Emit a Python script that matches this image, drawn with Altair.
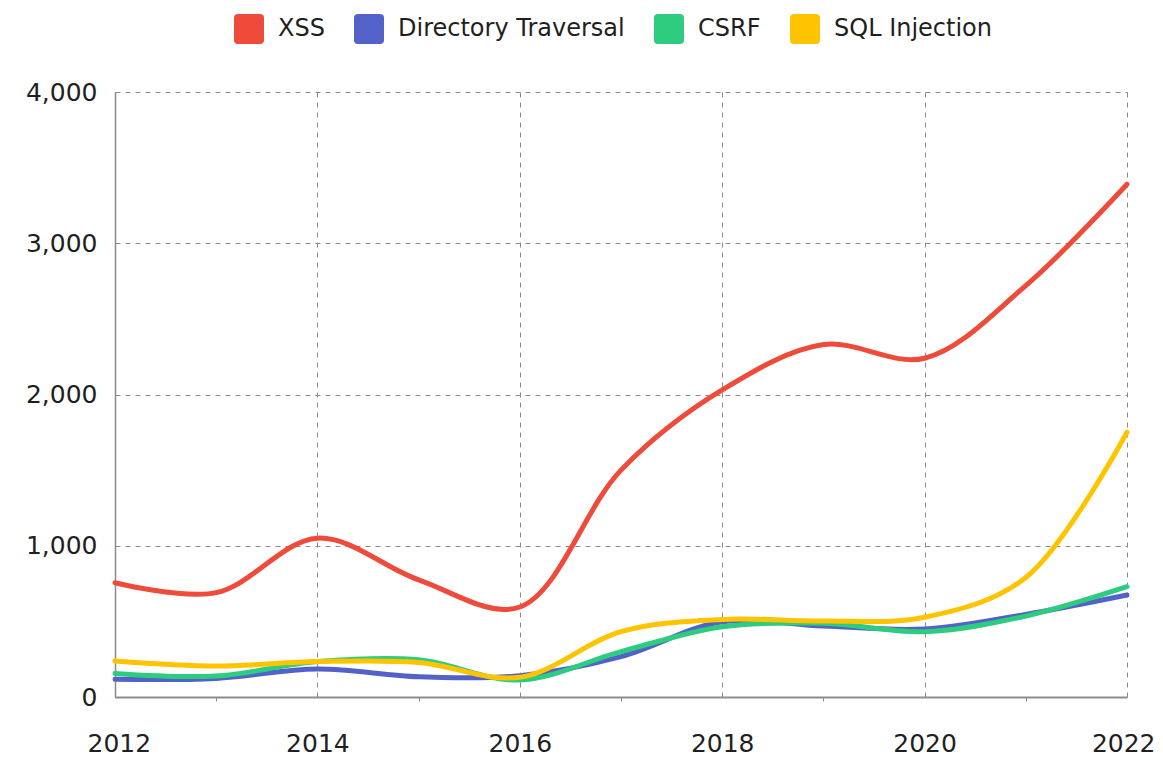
import altair as alt
import pandas as pd

years = list(range(2012, 2023))
series_names = ["XSS", "Directory Traversal", "CSRF", "SQL Injection"]
colors = ["#EE4B3B", "#5262C8", "#2ECC7E", "#FFC400"]

xss = [755, 690, 1050, 775, 595, 1500, 2030, 2330, 2240, 2720, 3390]
directory_traversal = [117, 123, 185, 134, 141, 267, 498, 469, 450, 546, 674]
csrf = [156, 139, 234, 246, 112, 300, 465, 487, 432, 535, 729]
sql_injection = [238, 205, 234, 228, 130, 432, 513, 502, 527, 790, 1750]

y_ticks = [0, 1000, 2000, 3000, 4000]

rows = []
for name, vals in zip(series_names,
                      [xss, directory_traversal, csrf, sql_injection]):
    for yr, v in zip(years, vals):
        rows.append({"year": yr, "value": v, "series": name})
df = pd.DataFrame(rows)

FONT = "DejaVu Sans"
TEXT = "#1f1f1f"
rounded_square = ("M-0.73,-1H0.73Q1,-1,1,-0.73V0.73Q1,1,0.73,1H-0.73"
                  "Q-1,1,-1,0.73V-0.73Q-1,-1,-0.73,-1Z")

x_enc = alt.X("year:Q",
              scale=alt.Scale(domain=[2012, 2022], nice=False, zero=False),
              axis=alt.Axis(
                  values=years, format="d", title=None,
                  labelExpr="datum.value % 2 == 0 ? datum.label : ''",
                  grid=True,
                  gridOpacity={"condition": {"test": "datum.value % 2 == 0", "value": 1}, "value": 0},
                  tickOpacity={"condition": {"test": "datum.value % 2 == 1", "value": 1}, "value": 0},
                  gridDash=[5, 5], gridColor="#8a8a8a", gridWidth=1,
                  tickSize=4, tickColor="#8a8a8a",
                  domainColor="#8a8e86", domainWidth=2,
                  labelFont=FONT, labelFontSize=25,
                  labelColor=TEXT, labelPadding=30,
                  labelFlush=True, labelFlushOffset=28,
                  labelOverlap=False, labelBound=False))
y_enc = alt.Y("value:Q",
              scale=alt.Scale(domain=[0, 4000], nice=False),
              axis=alt.Axis(
                  values=y_ticks, format=",.0f", title=None,
                  grid=True, gridDash=[5, 5], gridColor="#8a8a8a", gridWidth=1,
                  ticks=False, domainColor="#8a8a8a", domainWidth=1.5,
                  labelFont=FONT, labelFontSize=25,
                  labelColor=TEXT, labelPadding=18))
color_scale = alt.Scale(domain=series_names, range=colors)

legend_layer = alt.Chart(df).mark_point(
    filled=True, shape=rounded_square, size=0, opacity=1
).encode(
    x=x_enc, y=y_enc,
    color=alt.Color("series:N", scale=color_scale, sort=series_names,
                    legend=alt.Legend(
                        title=None, orient="none", direction="horizontal",
                        legendX=119, legendY=-78, padding=0,
                        symbolType=rounded_square, symbolSize=900,
                        symbolStrokeWidth=0, symbolOpacity=1,
                        labelFont=FONT, labelFontSize=24, labelLimit=0,
                        labelColor=TEXT, labelOffset=14,
                        columnPadding=29)),
)

lines = alt.Chart(df).mark_line(
    interpolate="catmull-rom", strokeWidth=5, strokeCap="round"
).encode(
    x=x_enc, y=y_enc,
    color=alt.Color("series:N", scale=color_scale, sort=series_names,
                    legend=None),
)

chart = alt.layer(legend_layer, lines).properties(
    width=1012, height=605,
    autosize=alt.AutoSizeParams(type="none"),
    padding={"left": 107, "top": 84, "right": 28, "bottom": 61},
).configure_view(stroke=None)

chart.save("out.html", embed_options={"renderer": "svg", "actions": False})
